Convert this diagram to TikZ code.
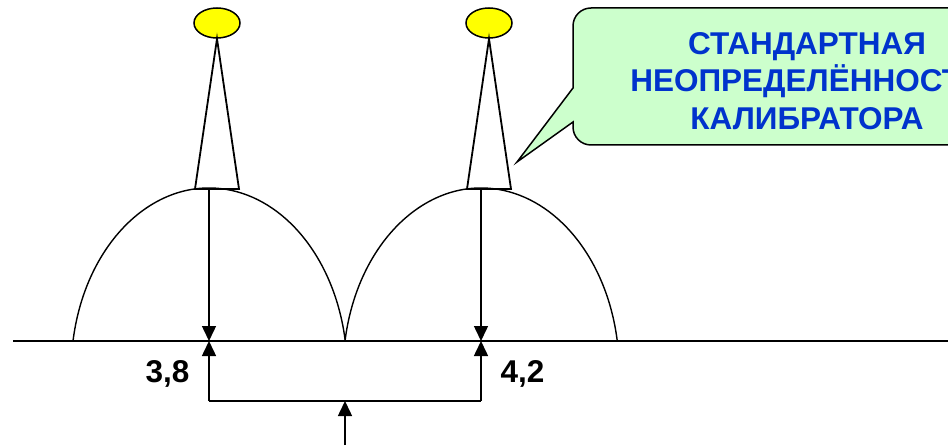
\documentclass[tikz,border=0pt]{standalone}
\usepackage{fontspec}
\setmainfont{Liberation Sans}
\usetikzlibrary{arrows.meta,shapes.geometric}
\definecolor{notefill}{RGB}{204,255,204}
\definecolor{noteblue}{RGB}{0,51,204}
\definecolor{lampyellow}{RGB}{255,255,0}
\begin{document}
\begin{tikzpicture}[x=1pt,y=1pt,
    hump/.style={line width=1.4pt},
    pin/.style={line width=1.5pt,-{Triangle[width=14pt,length=15pt]}},
    lamp/.style={ellipse,draw,line width=1.5pt,fill=lampyellow,minimum width=46pt,minimum height=30pt,inner sep=0pt},
    value/.style={font=\fontsize{31.5}{32}\selectfont\bfseries}]
    \clip (0,0) rectangle (948,445);
    % axis and the two distributions
    \coordinate (axisL) at (13,104);
    \coordinate (axisR) at (948,104);
    \draw[line width=2pt] (axisL) -- (axisR);
    \draw[hump] (73,104) arc[start angle=170.57,end angle=9.43,x radius=138,y radius=183];
    \draw[hump] (345,104) arc[start angle=170.57,end angle=9.43,x radius=138,y radius=183];
    % pointers with lamps
    \node[lamp] (lampL) at (217,422) {};
    \node[lamp] (lampR) at (489,422) {};
    \draw[line width=1.8pt] (lampL.south) -- (195,256) -- (239,256) -- cycle;
    \draw[line width=1.8pt] (lampR.south) -- (467,256) -- (511,256) -- cycle;
    % arrows
    \coordinate (peakL) at (209,257);
    \coordinate (peakR) at (481,257);
    \coordinate (footL) at (209,104);
    \coordinate (footR) at (481,104);
    \coordinate (baseL) at (209,44);
    \coordinate (baseR) at (481,44);
    \coordinate (mid) at (345,44);
    \coordinate (src) at (345,0);
    \draw[pin] (peakL) -- (footL);
    \draw[pin] (peakR) -- (footR);
    \draw[line width=1.5pt] (baseL) -- (baseR);
    \draw[pin] (baseL) -- (footL);
    \draw[pin] (baseR) -- (footR);
    \draw[pin] (src) -- (mid);
    \node[value,anchor=base east] (valL) at (193,63) {3,8};
    \node[value,anchor=base west] (valR) at (497,63) {4,2};
    % callout
    \draw[line width=1.5pt,fill=notefill] (517,283) -- (573,323) [rounded corners=18pt] -- (573,300) -- (1041,300) -- (1041,437) -- (573,437) [sharp corners] -- (573,357) -- cycle;
    \node[font=\fontsize{31.5}{37.5}\selectfont\bfseries,text=noteblue,align=center] (note) at (807,364)
        {СТАНДАРТНАЯ\\НЕОПРЕДЕЛЁННОСТЬ\\КАЛИБРАТОРА};
\end{tikzpicture}
\end{document}
